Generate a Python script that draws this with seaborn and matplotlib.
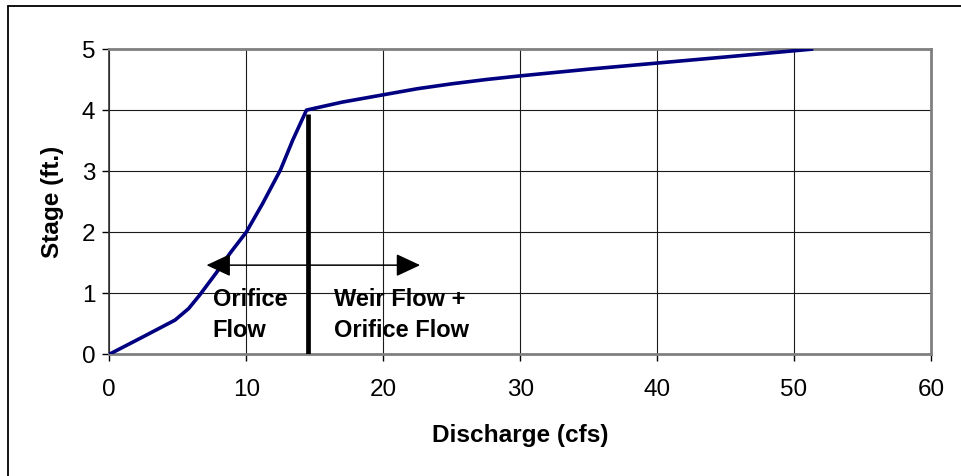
import matplotlib
matplotlib.use("Agg")
import matplotlib.pyplot as plt
from matplotlib.lines import Line2D
import seaborn as sns
import pandas as pd

# Stage–discharge rating curve for the outlet structure
discharge = [0, 2.5, 4.8, 5.8, 6.6, 7.8, 8.8, 10.0, 11.2, 12.5, 13.4, 14.4,
             17.0, 20.0, 22.5, 25.0, 27.5, 30.0, 35.0, 40.0, 45.0, 51.4]
stage = [0, 0.29, 0.56, 0.75, 0.97, 1.33, 1.65, 2.0, 2.47, 3.02, 3.51, 4.0,
         4.13, 4.25, 4.35, 4.43, 4.50, 4.56, 4.67, 4.77, 4.87, 5.0]

# Weir crest marker and flow-regime annotation
weir_discharge = 14.5
weir_top = 3.93
arrow_stage = 1.46
arrow_left = 7.1
arrow_right = 22.7

x_ticks = [0, 10, 20, 30, 40, 50, 60]
y_ticks = [0, 1, 2, 3, 4, 5]

df = pd.DataFrame({"Discharge (cfs)": discharge, "Stage (ft.)": stage})

sns.set_theme(style="white")
plt.rcParams["font.family"] = ["Liberation Sans", "DejaVu Sans"]
plt.rcParams.update({"text.color": "black", "axes.labelcolor": "black",
                     "xtick.color": "black", "ytick.color": "black"})

fig = plt.figure(figsize=(9.61, 4.76), dpi=100)
ax = fig.add_axes([0.1137, 0.2557, 0.9688 - 0.1137, 0.897 - 0.2557])

ax.set_xlim(0, 60)
ax.set_ylim(0, 5)
ax.set_xticks(x_ticks)
ax.set_yticks(y_ticks)
ax.grid(True, color="#1a1a1a", linewidth=0.8)
ax.set_axisbelow(True)

sns.lineplot(data=df, x="Discharge (cfs)", y="Stage (ft.)", ax=ax,
             color="#000080", linewidth=2.6, sort=False,
             solid_capstyle="butt", solid_joinstyle="round", zorder=4)

ax.vlines(weir_discharge, 0, weir_top, color="black", linewidth=3.4, zorder=5)

ax.annotate("", xy=(arrow_left, arrow_stage), xytext=(arrow_right, arrow_stage),
            arrowprops=dict(arrowstyle="<|-|>,head_length=0.75,head_width=0.35",
                            color="black", lw=1.1, shrinkA=0, shrinkB=0,
                            mutation_scale=20),
            zorder=6)

ax.text(7.55, 0.29, "Orifice\nFlow", fontsize=17, fontweight="bold",
        ha="left", va="baseline", linespacing=1.42, zorder=7)
ax.text(16.4, 0.29, "Weir Flow +\nOrifice Flow", fontsize=17, fontweight="bold",
        ha="left", va="baseline", linespacing=1.42, zorder=7)

ax.set_xlabel("Discharge (cfs)", fontsize=17.6, fontweight="bold", labelpad=16)
ax.set_ylabel("Stage (ft.)", fontsize=17.6, fontweight="bold", labelpad=13)
ax.tick_params(axis="both", labelsize=17.5, colors="black", length=5,
               width=1, direction="out", bottom=True, left=True)
ax.tick_params(axis="x", pad=13)
ax.tick_params(axis="y", pad=5)

for side in ["top", "right", "bottom"]:
    ax.spines[side].set_color("#808080")
    ax.spines[side].set_linewidth(2.0)
ax.spines["left"].set_color("#333333")
ax.spines["left"].set_linewidth(1.2)

# Chart-area border on the left and top
fig.add_artist(Line2D([8 / 961, 8 / 961], [0, 1 - 6 / 476],
                      transform=fig.transFigure, color="black", linewidth=1.3))
fig.add_artist(Line2D([8 / 961, 1], [1 - 6 / 476, 1 - 6 / 476],
                      transform=fig.transFigure, color="black", linewidth=1.3))

fig.savefig("out.png", dpi=100)
